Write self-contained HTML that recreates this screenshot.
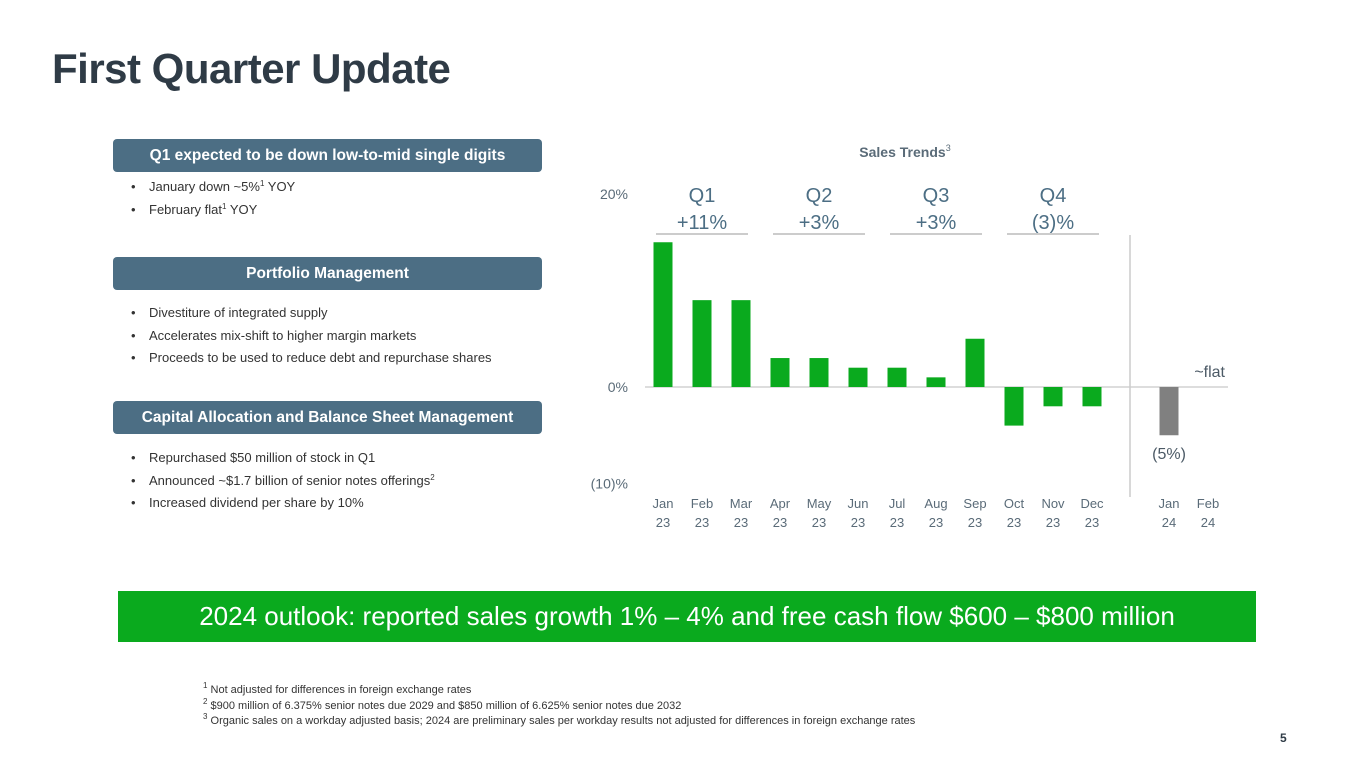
<!DOCTYPE html>
<html><head><meta charset="utf-8"><style>
body{margin:0;width:1365px;height:768px;background:#fff;font-family:"Liberation Sans",sans-serif;position:relative;overflow:hidden;color:#3d4a55}
.abs{position:absolute}
h1{position:absolute;left:52px;top:45px;margin:0;font-size:42px;font-weight:bold;color:#2f3b46;letter-spacing:-0.5px}
.hdr{position:absolute;left:113px;width:429px;height:33px;background:#4c6e84;border-radius:4px;color:#fff;font-weight:bold;font-size:15.5px;text-align:center;line-height:33px}
ul{position:absolute;left:131px;margin:0;padding:0;list-style:none;font-size:13px;color:#333}
ul li{height:22.5px}
ul li:before{content:"•";display:inline-block;width:18px}
sup{font-size:8px;line-height:0;vertical-align:5px}
.banner{position:absolute;left:118px;top:591px;width:1138px;height:51px;background:#0aaa1e;color:#fff;font-size:26px;text-align:center;line-height:51px}
.foot{position:absolute;left:203px;top:683px;font-size:11px;color:#333;line-height:15.5px}
</style></head><body>
<h1>First Quarter Update</h1>
<div class="hdr" style="top:139px">Q1 expected to be down low-to-mid single digits</div>
<ul style="top:179px"><li>January down ~5%<sup>1</sup> YOY</li><li>February flat<sup>1</sup> YOY</li></ul>
<div class="hdr" style="top:257px">Portfolio Management</div>
<ul style="top:305px"><li>Divestiture of integrated supply</li><li>Accelerates mix-shift to higher margin markets</li><li>Proceeds to be used to reduce debt and repurchase shares</li></ul>
<div class="hdr" style="top:401px">Capital Allocation and Balance Sheet Management</div>
<ul style="top:450px"><li>Repurchased $50 million of stock in Q1</li><li>Announced ~$1.7 billion of senior  notes offerings<sup>2</sup></li><li>Increased dividend per share by 10%</li></ul>
<svg class="abs" style="left:0;top:0" width="1365" height="768" id="chart"></svg>
<div class="banner">2024 outlook: reported sales growth 1% – 4% and free cash flow $600 – $800 million</div>
<div class="foot"><sup>1</sup> Not adjusted for differences in foreign exchange rates<br><sup>2</sup> $900 million of 6.375% senior notes due 2029 and $850 million of 6.625% senior notes due 2032<br><sup>3</sup> Organic sales on a workday adjusted basis; 2024 are preliminary sales per workday results not adjusted for differences in foreign exchange rates</div>
<div class="abs" style="left:1280px;top:731px;font-size:12px;font-weight:bold;color:#2f3b46">5</div>
<script>
const months=["Jan","Feb","Mar","Apr","May","Jun","Jul","Aug","Sep","Oct","Nov","Dec","Jan","Feb"];
const years=["23","23","23","23","23","23","23","23","23","23","23","23","24","24"];
const values=[15,9,9,3,3,2,2,1,5,-4,-2,-2,-5,0];
const quarters=["Q1","Q2","Q3","Q4"];
const quarterVals=["+11%","+3%","+3%","(3)%"];
const yTicks=[20,0,-10];
const yTickLabels=["20%","0%","(10)%"];
const NS="http://www.w3.org/2000/svg",svg=document.getElementById("chart");
const y=v=>387-v*9.65;
const x=i=>663+i*39+(i>=12?38:0);
function mk(t,a,txt){const e=document.createElementNS(NS,t);for(const k in a)e.setAttribute(k,a[k]);if(txt!=null)e.textContent=txt;svg.appendChild(e);return e;}
let e=mk("text",{x:905,y:157,"text-anchor":"middle","font-size":14,"font-weight":"bold",fill:"#5a6b78"},"Sales Trends");


mk("tspan",{"font-size":9,dy:-6,"font-weight":"normal"},null).textContent="3";e.appendChild(svg.lastChild);
yTicks.forEach((t,i)=>{const l=mk("text",{x:628,y:y(t)+5,"text-anchor":"end","font-size":14,fill:"#5a6b78"},yTickLabels[i]);

});
const z=mk("line",{x1:645,x2:1228,y1:y(0),y2:y(0),stroke:"#ddd","stroke-width":2});


const sep=mk("line",{x1:1130,x2:1130,y1:235,y2:497,stroke:"#ccc","stroke-width":1.5});


values.forEach((v,i)=>{if(v!==0){const b=mk("rect",{x:x(i)-9.5,width:19,y:Math.min(y(v),y(0)),height:Math.abs(y(v)-y(0)),fill:i>=12?"#808080":"#0aaa1e"});

}
const a=mk("text",{x:x(i),y:508,"text-anchor":"middle","font-size":13,fill:"#5a6b78"},months[i]);


const c=mk("text",{x:x(i),y:527,"text-anchor":"middle","font-size":13,fill:"#5a6b78"},years[i]);

});
quarters.forEach((q,k)=>{const cx=(x(k*3)+x(k*3+2))/2;
const t=mk("text",{x:cx,y:202,"text-anchor":"middle","font-size":20,fill:"#4c6e84"},q);


const v=mk("text",{x:cx,y:229,"text-anchor":"middle","font-size":20,fill:"#4c6e84"},quarterVals[k]);


const l=mk("line",{x1:cx-46,x2:cx+46,y1:234,y2:234,stroke:"#bbb","stroke-width":1.5});

});
const f=mk("text",{x:1225,y:377,"text-anchor":"end","font-size":16,fill:"#4c5a66"},"~flat");


const n=mk("text",{x:x(12),y:459,"text-anchor":"middle","font-size":16,fill:"#4c5a66"},"(5%)");


</script>
</body></html>
